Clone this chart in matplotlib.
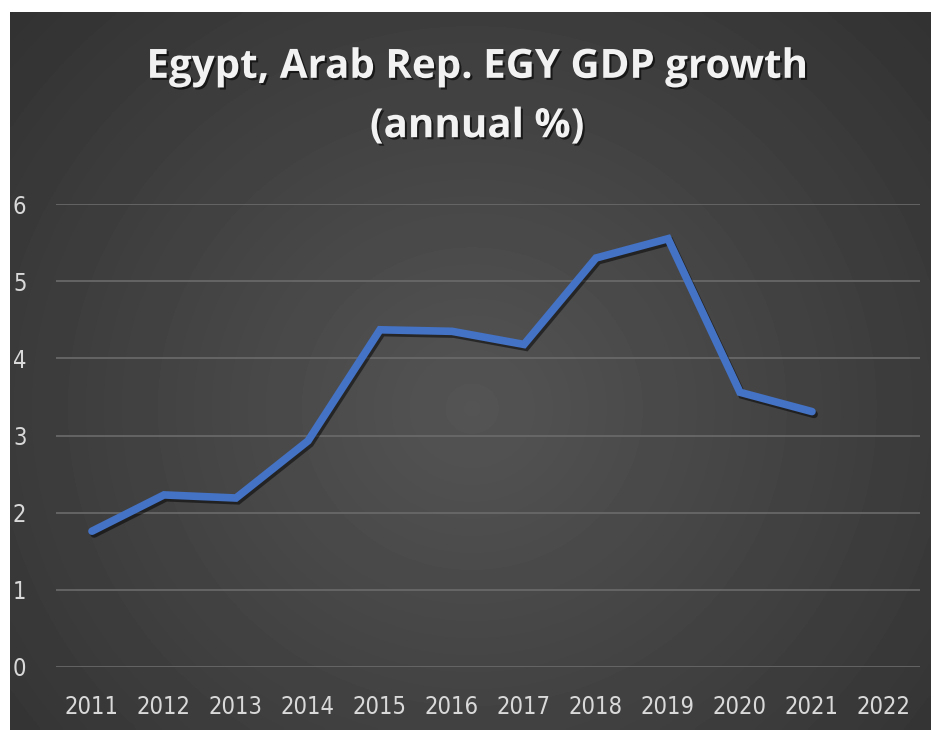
import numpy as np
import matplotlib
matplotlib.use("Agg")
import matplotlib.pyplot as plt
import matplotlib.patheffects as pe

years = ["2011", "2012", "2013", "2014", "2015", "2016", "2017", "2018", "2019", "2020", "2021", "2022"]
growth = [1.76, 2.23, 2.19, 2.93, 4.37, 4.35, 4.18, 5.30, 5.55, 3.56, 3.31, np.nan]
yticks = [0, 1, 2, 3, 4, 5, 6]
title = "Egypt, Arab Rep. EGY GDP growth\n(annual %)"

W, H = 934, 730
fig = plt.figure(figsize=(W / 100, H / 100), dpi=100, facecolor="white")

# background panel with radial gradient
px0, px1, py0, py1 = 10, 931, 12, 730
bg = fig.add_axes([px0 / W, 1 - py1 / H, (px1 - px0) / W, (py1 - py0) / H])
yy, xx = np.mgrid[0:200, 0:260]
cx, cy = 130, 110
r = np.sqrt(((xx - cx) / 150.0) ** 2 + ((yy - cy) / 140.0) ** 2)
val = 0.33 - 0.15 * np.clip(r, 0, 1.3) / 1.3
bg.imshow(val, cmap="gray", vmin=0, vmax=1, aspect="auto", interpolation="bicubic")
bg.set_axis_off()

# plot area
x0, x1 = 56, 920
y0pix, y6pix = 667, 204
ax = fig.add_axes([x0 / W, 1 - y0pix / H, (x1 - x0) / W, (y0pix - y6pix) / H])
ax.set_facecolor("none")
x = np.arange(len(years))
ax.plot(x, growth, color="#4472C4", lw=5.5, solid_capstyle="round", solid_joinstyle="miter",
        path_effects=[pe.SimpleLineShadow(offset=(1.5, -2), shadow_color="black", alpha=0.5),
                      pe.Normal()], zorder=3)
ax.set_xlim(-0.5, len(years) - 0.5)
ax.set_ylim(0, 6)
ax.set_yticks(yticks)
ax.set_xticks(x)
ax.set_xticklabels(years)
ax.grid(axis="y", color="#6b6b6b", lw=1.2)
ax.set_axisbelow(True)
for s in ax.spines.values():
    s.set_visible(False)
ax.tick_params(length=0, colors="#d9d9d9", labelsize=17)
for lab in ax.get_xticklabels() + ax.get_yticklabels():
    lab.set_family("DejaVu Sans")
    lab.set_fontstretch("condensed")
ax.tick_params(axis="x", pad=20)
ax.tick_params(axis="y", pad=31)
for lab in ax.get_yticklabels():
    lab.set_horizontalalignment("left")

fig.text(477 / W, 1 - 97 / H, title, ha="center", va="center", color="#f2f2f2",
         fontsize=29, fontweight="bold", family=["Open Sans", "DejaVu Sans"], linespacing=1.68,
         path_effects=[pe.withSimplePatchShadow(offset=(1.5, -1.5), shadow_rgbFace="black", alpha=0.6)])

fig.savefig("out.png", dpi=100, facecolor="white")
